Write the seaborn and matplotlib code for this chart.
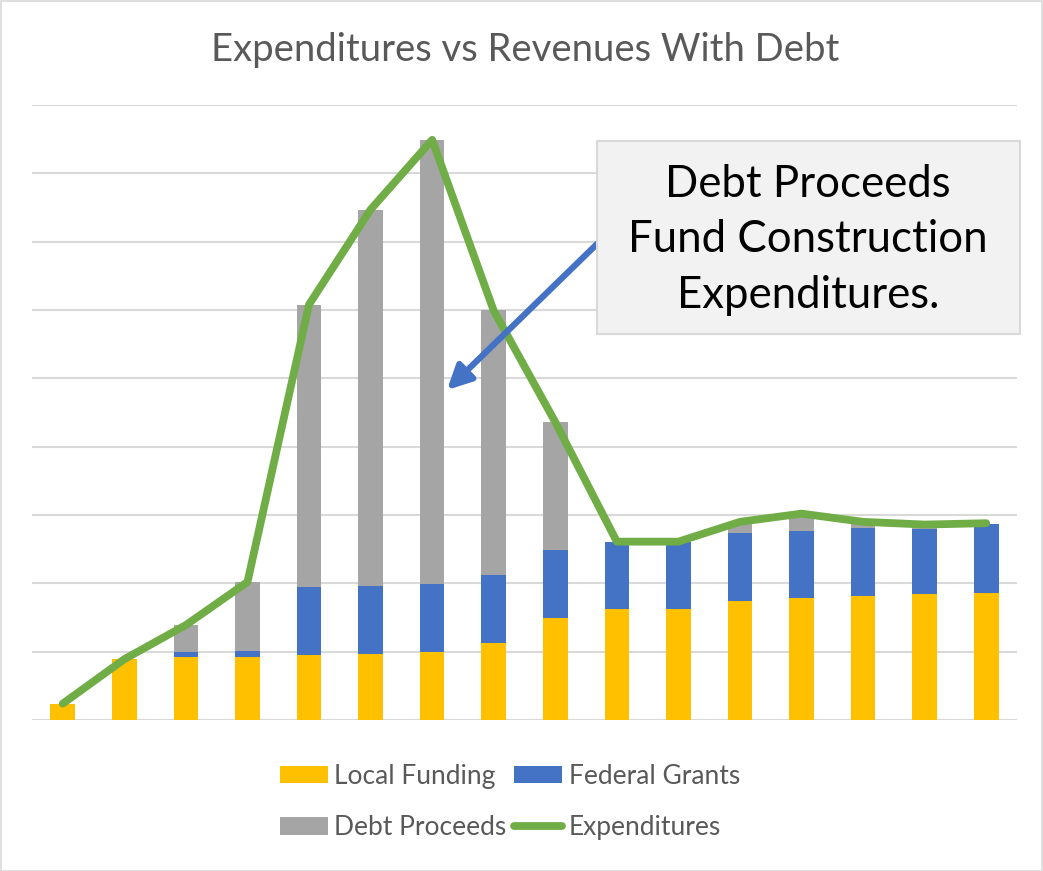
import numpy as np
import pandas as pd
import matplotlib
matplotlib.use("Agg")
import matplotlib.pyplot as plt
from matplotlib.patches import Rectangle, Patch
from matplotlib.lines import Line2D
import seaborn as sns

# ---- data (units = gridline steps) ----
periods = [str(i) for i in range(1, 17)]
local_funding = [0.24, 0.89, 0.92, 0.92, 0.95, 0.97, 1.00, 1.12, 1.49, 1.63, 1.63, 1.74, 1.79, 1.82, 1.84, 1.86]
federal_grants = [0.00, 0.00, 0.08, 0.09, 0.99, 0.99, 0.99, 1.00, 1.00, 0.98, 0.98, 1.00, 0.98, 0.99, 0.96, 1.01]
debt_proceeds = [0.00, 0.00, 0.39, 1.01, 4.14, 5.51, 6.50, 3.88, 1.87, 0.00, 0.00, 0.16, 0.24, 0.08, 0.06, 0.00]
expenditures = [0.24, 0.89, 1.39, 2.02, 6.08, 7.47, 8.49, 5.99, 4.36, 2.61, 2.61, 2.90, 3.02, 2.90, 2.86, 2.88]

title = "Expenditures vs Revenues With Debt"
callout = "Debt Proceeds\nFund Construction\nExpenditures."

C_LOCAL = "#FFC000"
C_FED = "#4472C4"
C_DEBT = "#A5A5A5"
C_EXP = "#70AD47"
C_GRID = "#D9D9D9"
C_TEXT = "#595959"

sns.set_theme(style="white")
plt.rcParams["font.family"] = ["Lato", "DejaVu Sans"]

df = pd.DataFrame({
    "period": periods,
    "local": local_funding,
    "federal": federal_grants,
    "debt": debt_proceeds,
    "exp": expenditures,
})
df["lf"] = df["local"] + df["federal"]
df["lfd"] = df["lf"] + df["debt"]

W, H = 1043, 871
fig = plt.figure(figsize=(W / 100, H / 100), dpi=100)
ax = fig.add_axes([32 / W, 1 - 720 / H, 985 / W, 615 / H])

bw = 0.4
sns.barplot(data=df, x="period", y="lfd", color=C_DEBT, saturation=1, width=bw, ax=ax, zorder=2)
sns.barplot(data=df, x="period", y="lf", color=C_FED, saturation=1, width=bw, ax=ax, zorder=3)
sns.barplot(data=df, x="period", y="local", color=C_LOCAL, saturation=1, width=bw, ax=ax, zorder=4)
for p in ax.patches:
    p.set_linewidth(0)

sns.lineplot(x=np.arange(len(periods)), y=df["exp"].values, color=C_EXP, lw=5.6,
             ax=ax, zorder=5, sort=False, solid_capstyle="round", solid_joinstyle="round")

ax.set_xlim(-0.5, len(periods) - 0.5)
ax.set_ylim(0, 9)
ax.set_yticks(np.arange(0, 10, 1))
ax.yaxis.grid(True, color=C_GRID, lw=1.5, zorder=0)
ax.set_axisbelow(True)
ax.set_xticks([])
ax.tick_params(left=False, bottom=False, labelleft=False, labelbottom=False)
ax.set_xlabel("")
ax.set_ylabel("")
for s in ax.spines.values():
    s.set_visible(False)
ax.axhline(0, color=C_GRID, lw=1.5, zorder=1)

# title
fig.text(525 / W, 1 - 50 / H, title, ha="center", va="center", fontsize=27.5, color=C_TEXT)

# legend
handles = [
    Patch(facecolor=C_LOCAL, edgecolor="none"),
    Patch(facecolor=C_DEBT, edgecolor="none"),
    Patch(facecolor=C_FED, edgecolor="none"),
    Line2D([0], [0], color=C_EXP, lw=5.6, solid_capstyle="round"),
]
labels = ["Local Funding", "Debt Proceeds", "Federal Grants", "Expenditures"]
leg = fig.legend(handles, labels, loc="center", bbox_to_anchor=(510 / W, 1 - 802 / H), ncol=2,
                 frameon=False, fontsize=19, labelcolor=C_TEXT, handlelength=1.8, handleheight=0.65,
                 handletextpad=0.25, columnspacing=0.3, labelspacing=1.0, borderpad=0)

# callout box
fig.patches.append(Rectangle((597 / W, 1 - 334 / H), 423 / W, 193 / H, transform=fig.transFigure,
                             facecolor="#F2F2F2", edgecolor=C_GRID, lw=1.5, zorder=10))
fig.text(808 / W, 1 - 240 / H, callout, ha="center", va="center", fontsize=31.5, color="black",
         linespacing=1.45, zorder=11)

# arrow
ax.annotate("", xy=(447 / W, 1 - 390 / H), xytext=(598 / W, 1 - 243 / H),
            xycoords="figure fraction", textcoords="figure fraction",
            arrowprops=dict(arrowstyle="-|>,head_length=1.2,head_width=0.6", color=C_FED, lw=4.5,
                            shrinkA=0, shrinkB=0), zorder=12)

# figure border
fig.patches.append(Rectangle((0.5 / W, 0.5 / H), 1 - 1.5 / W, 1 - 1.5 / H, transform=fig.transFigure,
                             facecolor="none", edgecolor=C_GRID, lw=1.2))

fig.savefig("out.png", dpi=100)
